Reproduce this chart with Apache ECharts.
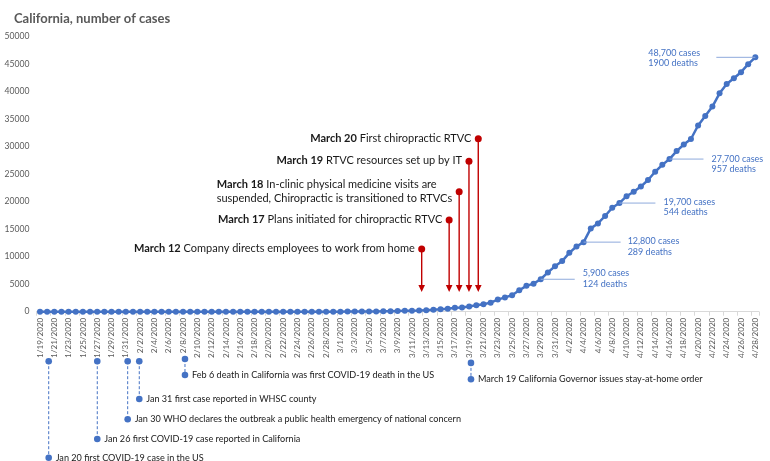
<!DOCTYPE html>
<html>
<head>
<meta charset="utf-8">
<script src="https://cdn.jsdelivr.net/npm/echarts@6/dist/echarts.min.js"></script>
<style>html,body{margin:0;padding:0;background:#fff}#c{width:770px;height:461px}</style>
</head>
<body>
<div id="c"></div>
<script>
const dates = [
'1/19/2020','1/20/2020','1/21/2020','1/22/2020','1/23/2020','1/24/2020','1/25/2020','1/26/2020','1/27/2020','1/28/2020','1/29/2020','1/30/2020','1/31/2020',
'2/1/2020','2/2/2020','2/3/2020','2/4/2020','2/5/2020','2/6/2020','2/7/2020','2/8/2020','2/9/2020','2/10/2020','2/11/2020','2/12/2020','2/13/2020','2/14/2020','2/15/2020','2/16/2020','2/17/2020','2/18/2020','2/19/2020','2/20/2020','2/21/2020','2/22/2020','2/23/2020','2/24/2020','2/25/2020','2/26/2020','2/27/2020','2/28/2020','2/29/2020',
'3/1/2020','3/2/2020','3/3/2020','3/4/2020','3/5/2020','3/6/2020','3/7/2020','3/8/2020','3/9/2020','3/10/2020','3/11/2020','3/12/2020','3/13/2020','3/14/2020','3/15/2020','3/16/2020','3/17/2020','3/18/2020','3/19/2020','3/20/2020','3/21/2020','3/22/2020','3/23/2020','3/24/2020','3/25/2020','3/26/2020','3/27/2020','3/28/2020','3/29/2020','3/30/2020','3/31/2020',
'4/1/2020','4/2/2020','4/3/2020','4/4/2020','4/5/2020','4/6/2020','4/7/2020','4/8/2020','4/9/2020','4/10/2020','4/11/2020','4/12/2020','4/13/2020','4/14/2020','4/15/2020','4/16/2020','4/17/2020','4/18/2020','4/19/2020','4/20/2020','4/21/2020','4/22/2020','4/23/2020','4/24/2020','4/25/2020','4/26/2020','4/27/2020','4/28/2020'
];
const cases = [
0,0,0,0,0,0,0,2,2,2,2,2,3,
3,6,6,6,6,6,6,6,6,7,7,7,8,8,8,8,8,8,8,9,10,10,10,10,10,10,10,12,12,
12,21,25,35,51,59,81,95,133,157,177,221,282,340,426,557,698,751,952,1177,1364,1646,2200,2600,3000,3900,4700,5100,5900,7150,8250,
9200,10700,11850,12650,15150,16050,17400,18900,19750,21000,21800,22750,23950,25450,26700,27750,29200,30400,31400,33850,35600,37300,39700,41400,42450,43550,45000,46250
];
const yTicks = {min: 0, max: 50000, interval: 5000};
const titleText = 'California, number of cases';

// callouts on the line
const calloutDates = ['3/29/2020','4/4/2020','4/9/2020','4/16/2020','4/28/2020'];
const calloutCases = ['5,900 cases','12,800 cases','19,700 cases','27,700 cases','48,700 cases'];
const calloutDeaths = ['124 deaths','289 deaths','544 deaths','957 deaths','1900 deaths'];

// red company milestones (x in day index from 1/19, y in cases units)
const redBold = ['March 12','March 17','March 18','March 19','March 20'];
const redText = ['Company directs employees to work from home','Plans initiated for chiropractic RTVC','In-clinic physical medicine visits are\nsuspended, Chiropractic is transitioned to RTVCs','RTVC resources set up by IT','First chiropractic RTVC'];
const redDay = [53.36, 57.2, 58.6, 59.97, 61.27];
const redTop = [11400, 16670, 21820, 27350, 31450];
const redTip = [3600, 3600, 3600, 3600, 3600];

// blue public milestones below the axis (x in day index, row = depth below axis band)
const blueText = ['Jan 20 first COVID-19 case in the US','Jan 26 first COVID-19 case reported in California','Jan 30 WHO declares the outbreak a public health emergency of national concern','Jan 31 first case reported in WHSC county','Feb 6 death in California was first COVID-19 death in the US','March 19 California Governor issues stay-at-home order'];
const blueDay = [1.22, 8.01, 12.26, 13.88, 20.27, 60.25];
const blueTopRow = [11.2, 11.2, 11.2, 11.2, 9, 12.9];
const blueBottomRow = [107.7, 89, 69.3, 49, 25, 29.3];
</script>
<script>
const FONT = 'Lato';
const BLUE = '#4472C4';
const RED = '#C00000';
const calloutLayout = [[34,42,-1],[37,44,4.5],[36,44,4],[34,42,5],[-39,-107,0.7]];

const mctx = document.createElement('canvas').getContext('2d');
function measure(str, weight, size) {
  mctx.font = weight + ' ' + size + 'px ' + FONT;
  return mctx.measureText(str).width;
}
const RED_SIZE = 11;

const chart = echarts.init(document.getElementById('c'), null, {renderer: 'canvas'});
const lastIdx = dates.length - 1;

chart.setOption({
  animation: false,
  backgroundColor: '#fff',
  title: {text: titleText, left: 9, top: 7, textStyle: {fontFamily: FONT, fontSize: 13, fontWeight: 'bold', color: '#595959'}},
  grid: [
    {left: 36.4, right: 11.1, top: 36.7, height: 275},
    {left: 36.4, right: 11.1, top: 350, height: 111}
  ],
  xAxis: [
    {type: 'category', gridIndex: 0, data: dates, boundaryGap: true,
     axisLine: {lineStyle: {color: '#d9d9d9'}},
     axisTick: {show: true, interval: 1, length: 4, lineStyle: {color: '#d9d9d9'}},
     axisLabel: {interval: 1, rotate: 90, fontSize: 8.1, color: '#595959', fontFamily: FONT, margin: 6},
     splitLine: {show: false}},
    {type: 'value', gridIndex: 0, min: -0.5, max: lastIdx + 0.5, show: false},
    {type: 'value', gridIndex: 1, min: -0.5, max: lastIdx + 0.5, show: false}
  ],
  yAxis: [
    {type: 'value', gridIndex: 0, min: yTicks.min, max: yTicks.max, interval: yTicks.interval,
     splitLine: {show: false}, axisLine: {show: false}, axisTick: {show: false},
     axisLabel: {fontSize: 8.6, color: '#595959', fontFamily: FONT, margin: 7, formatter: v => String(v)}},
    {type: 'value', gridIndex: 1, min: 0, max: 111, inverse: true, show: false}
  ],
  series: [
    {type: 'line', xAxisIndex: 0, yAxisIndex: 0, data: cases, z: 3,
     symbol: 'circle', symbolSize: 6, showSymbol: true, showAllSymbol: true,
     lineStyle: {color: BLUE, width: 2.5}, itemStyle: {color: BLUE}},
    {type: 'custom', xAxisIndex: 1, yAxisIndex: 0, clip: false, z: 4,
     data: calloutDates.map(d => [dates.indexOf(d), cases[dates.indexOf(d)]]),
     renderItem: function (params, api) {
       const i = params.dataIndex;
       const p = api.coord([api.value(0), api.value(1)]);
       const L = calloutLayout[i];
       return {type: 'group', children: [
         {type: 'line', shape: {x1: p[0], y1: p[1], x2: p[0] + L[0], y2: p[1]}, style: {stroke: '#8faadc', lineWidth: 1}},
         {type: 'text', x: p[0] + L[1], y: p[1] + L[2], style: {text: calloutCases[i] + '\n' + calloutDeaths[i], fill: BLUE, fontSize: 9, fontFamily: FONT, lineHeight: 10.7, align: 'left', verticalAlign: 'middle'}}
       ]};
     }},
    {type: 'custom', xAxisIndex: 1, yAxisIndex: 0, clip: false, z: 5,
     data: redDay.map((d, i) => [d, redTop[i], redTip[i]]),
     renderItem: function (params, api) {
       const i = params.dataIndex;
       const t = api.coord([api.value(0), api.value(1)]);
       const b = api.coord([api.value(0), api.value(2)]);
       const ah = 7, aw = 3.3;
       const lines = redText[i].split('\n');
       let w = 0;
       lines.forEach((ln, k) => {
         const lw = (k === 0 ? measure(redBold[i] + ' ', 'bold', RED_SIZE) : 0) + measure(ln, 'normal', RED_SIZE);
         w = Math.max(w, lw);
       });
       const txt = '{b|' + redBold[i] + '} ' + lines.join('\n');
       return {type: 'group', children: [
         {type: 'line', shape: {x1: t[0], y1: t[1], x2: b[0], y2: b[1] - ah + 1}, style: {stroke: RED, lineWidth: 1.4}},
         {type: 'polygon', shape: {points: [[b[0] - aw, b[1] - ah], [b[0] + aw, b[1] - ah], [b[0], b[1]]]}, style: {fill: RED}},
         {type: 'circle', shape: {cx: t[0], cy: t[1], r: 3.5}, style: {fill: RED}},
         {type: 'text', x: t[0] - 7 - w, y: t[1] - 0.5, style: {text: txt, fill: '#1a1a1a', fontSize: RED_SIZE, fontFamily: FONT, lineHeight: 14.3, align: 'left', verticalAlign: 'middle',
           rich: {b: {fontWeight: 'bold', fontSize: RED_SIZE, fontFamily: FONT, fill: '#1a1a1a'}}}}
       ]};
     }},
    {type: 'custom', xAxisIndex: 2, yAxisIndex: 1, clip: false, z: 5,
     data: blueDay.map((d, i) => [d, blueTopRow[i], blueBottomRow[i]]),
     renderItem: function (params, api) {
       const i = params.dataIndex;
       const t = api.coord([api.value(0), api.value(1)]);
       const b = api.coord([api.value(0), api.value(2)]);
       return {type: 'group', children: [
         {type: 'line', shape: {x1: t[0], y1: t[1], x2: b[0], y2: b[1]}, style: {stroke: BLUE, lineWidth: 1, lineDash: [3, 2]}},
         {type: 'circle', shape: {cx: t[0], cy: t[1], r: 3.3}, style: {fill: BLUE}},
         {type: 'circle', shape: {cx: b[0], cy: b[1], r: 3.3}, style: {fill: BLUE}},
         {type: 'text', x: b[0] + 7, y: b[1], style: {text: blueText[i], fill: '#1a1a1a', fontSize: 9.1, fontFamily: FONT, align: 'left', verticalAlign: 'middle'}}
       ]};
     }}
  ]
});
</script>
</body>
</html>
